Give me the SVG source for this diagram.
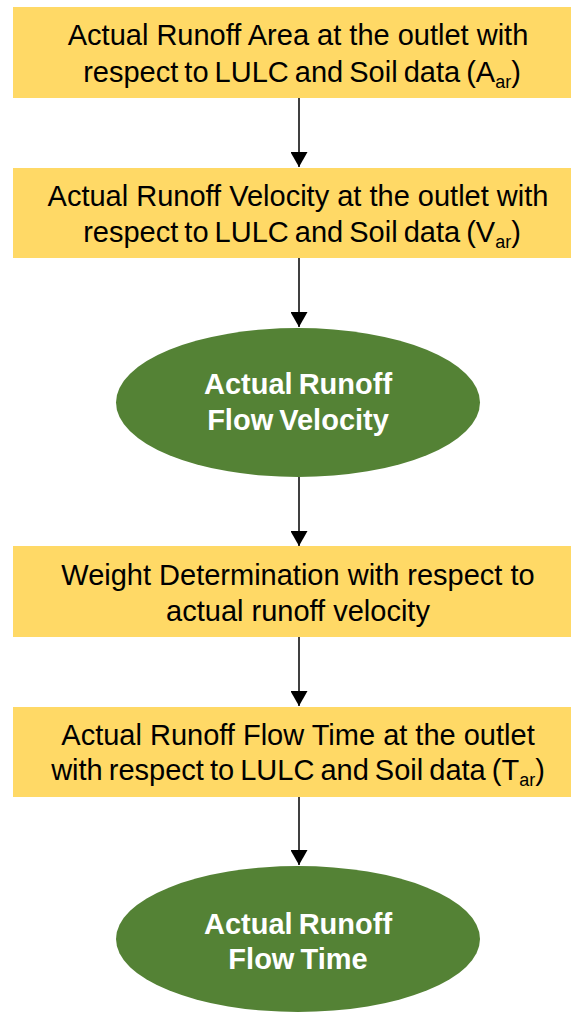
<svg xmlns="http://www.w3.org/2000/svg" width="571" height="1012" viewBox="0 0 571 1012">
  <style>
    .box { fill: #FFD966; }
    .oval { fill: #548235; }
    .t { font-family: "Liberation Sans", Arial, sans-serif; font-size: 29px; fill: #000000; text-anchor: middle; }
    .w { font-family: "Liberation Sans", Arial, sans-serif; font-size: 29px; font-weight: bold; fill: #FFFFFF; text-anchor: middle; }
    .sub { font-size: 18px; }
    .edge { stroke: #000000; stroke-width: 1.5; fill: none; marker-end: url(#arrow); }
  </style>
  <defs>
    <marker id="arrow" markerUnits="userSpaceOnUse" markerWidth="15" markerHeight="17" refX="15" refY="8.5" orient="auto">
      <path d="M0,0 L15,8.5 L0,17 z" fill="#000000"/>
    </marker>
  </defs>
  <rect width="571" height="1012" fill="#FFFFFF"/>

  <g id="connectors">
    <line class="edge" x1="299" y1="98" x2="299" y2="167"/>
    <line class="edge" x1="299" y1="258" x2="299" y2="327"/>
    <line class="edge" x1="299" y1="477" x2="299" y2="546"/>
    <line class="edge" x1="299" y1="637" x2="299" y2="706"/>
    <line class="edge" x1="299" y1="797" x2="299" y2="865"/>
  </g>

  <g id="node1">
    <rect class="box" x="13" y="7" width="558" height="91"/>
    <text class="t" x="298" y="45">Actual Runoff Area at the outlet with</text>
    <text class="t" x="302" y="82" word-spacing="-2">respect to LULC and Soil data (A<tspan class="sub" dy="6">ar</tspan><tspan dy="-6">)</tspan></text>
  </g>

  <g id="node2">
    <rect class="box" x="13" y="168" width="558" height="90"/>
    <text class="t" x="298" y="206">Actual Runoff Velocity at the outlet with</text>
    <text class="t" x="302" y="242" word-spacing="-2">respect to LULC and Soil data (V<tspan class="sub" dy="6">ar</tspan><tspan dy="-6">)</tspan></text>
  </g>

  <g id="node3">
    <ellipse class="oval" cx="298" cy="402.5" rx="182" ry="74.5"/>
    <text class="w" x="298" y="394" word-spacing="-2">Actual Runoff</text>
    <text class="w" x="298" y="430" word-spacing="-2">Flow Velocity</text>
  </g>

  <g id="node4">
    <rect class="box" x="13" y="546" width="558" height="91"/>
    <text class="t" x="298" y="585">Weight Determination with respect to</text>
    <text class="t" x="298" y="621">actual runoff velocity</text>
  </g>

  <g id="node5">
    <rect class="box" x="13" y="707" width="558" height="90"/>
    <text class="t" x="298" y="745">Actual Runoff Flow Time at the outlet</text>
    <text class="t" x="298" y="780" word-spacing="-2">with respect to LULC and Soil data (T<tspan class="sub" dy="6">ar</tspan><tspan dy="-6">)</tspan></text>
  </g>

  <g id="node6">
    <ellipse class="oval" cx="298" cy="939" rx="182" ry="73"/>
    <text class="w" x="298" y="934" word-spacing="-2">Actual Runoff</text>
    <text class="w" x="298" y="969" word-spacing="-2">Flow Time</text>
  </g>
</svg>
